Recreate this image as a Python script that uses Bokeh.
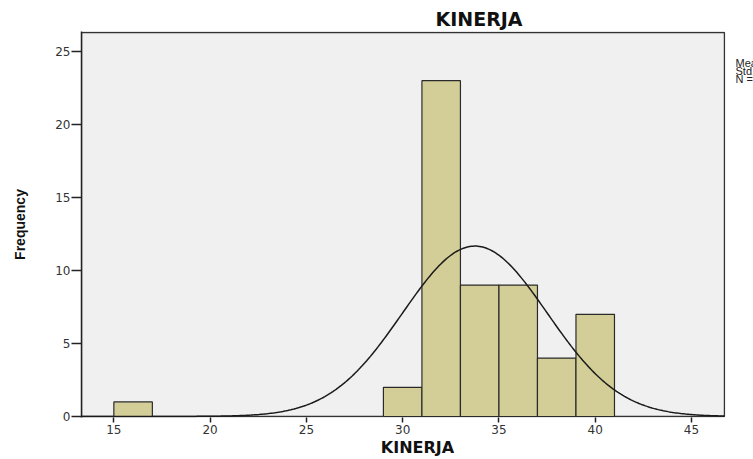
import numpy as np
from bokeh.plotting import figure
from bokeh.models import Label, FixedTicker
from bokeh.embed import file_html
from bokeh.resources import INLINE

# Histogram data (bin width 2)
bin_start = [15, 29, 31, 33, 35, 37, 39]
freq = [1, 2, 23, 9, 9, 4, 7]
bin_width = 2
mean = 33.75
std_dev = 3.76
n_total = sum(freq)
x_ticks = [15, 20, 25, 30, 35, 40, 45]
y_ticks = [0, 5, 10, 15, 20, 25]

# plot-area extent (data units) and the wider frame that also holds the stats text
area_x = (13.32, 46.71)
area_y = (0, 26.3)

p = figure(width=753, height=459,
           min_border_left=81, min_border_right=0, min_border_top=31, min_border_bottom=42,
           x_range=(13.32, 48.22), y_range=(-0.07, 26.37),
           output_backend="svg", toolbar_location=None, tools="")
p.background_fill_color = "white"
p.border_fill_color = "white"
p.outline_line_color = None
p.xgrid.visible = False
p.ygrid.visible = False

# grey plot area with its border
p.quad(left=area_x[0], right=area_x[1], bottom=area_y[0], top=area_y[1],
       fill_color="#F0F0F0", line_color="#333333", line_width=1.3)

p.title.text = "KINERJA"
p.title.align = "left"
p.title.offset = 354
p.title.standoff = 4
p.title.text_font = "DejaVu Sans"
p.title.text_font_style = "bold"
p.title.text_font_size = "19px"
p.title.text_color = "#111111"

left = [b for b in bin_start]
right = [b + bin_width for b in bin_start]
p.quad(left=left, right=right, bottom=0, top=freq,
       fill_color="#D3CE98", line_color="#2a2a2a", line_width=1.2)

xs = np.linspace(area_x[0], area_x[1], 400)
ys = n_total * bin_width / (std_dev * np.sqrt(2 * np.pi)) * np.exp(-0.5 * ((xs - mean) / std_dev) ** 2)
p.line(xs, ys, line_color="#1a1a1a", line_width=1.5)

for ax in (p.xaxis[0], p.yaxis[0]):
    ax.axis_line_color = "#222222"
    ax.axis_line_width = 1.5
    ax.major_tick_line_color = "#222222"
    ax.major_tick_line_width = 1.5
    ax.major_tick_in = 0
    ax.minor_tick_line_color = None
    ax.major_label_text_font = "DejaVu Sans"
    ax.major_label_text_font_size = "12px"
    ax.major_label_text_color = "#333333"
    ax.axis_label_text_font_style = "bold"
    ax.axis_label_text_color = "#111111"

p.xaxis[0].axis_line_color = None
p.xaxis[0].ticker = FixedTicker(ticks=x_ticks)
p.yaxis[0].ticker = FixedTicker(ticks=y_ticks)
p.xaxis[0].major_tick_out = 5
p.yaxis[0].major_tick_out = 10
p.xaxis[0].major_label_standoff = 2
p.yaxis[0].major_label_standoff = 1

p.xaxis[0].axis_label = "KINERJA"
p.xaxis[0].axis_label_text_font = "DejaVu Sans"
p.xaxis[0].axis_label_text_font_size = "16px"
p.xaxis[0].axis_label_standoff = 1

p.yaxis[0].axis_label = "Frequency"
p.yaxis[0].axis_label_text_font = "Liberation Sans"
p.yaxis[0].axis_label_text_font_size = "14px"
p.yaxis[0].axis_label_standoff = 24

stats = ["Mean = %.2f" % mean, "Std. Dev. = %.3f" % std_dev, "N = %d" % n_total]
for i, s in enumerate(stats):
    p.add_layout(Label(x=654, y=355 - 8 * i, x_units="screen", y_units="screen",
                       text=s, text_align="left", text_baseline="alphabetic",
                       text_font="Liberation Sans", text_font_size="11px",
                       text_color="#222222"))

open("out.html", "w").write(file_html(p, INLINE))
